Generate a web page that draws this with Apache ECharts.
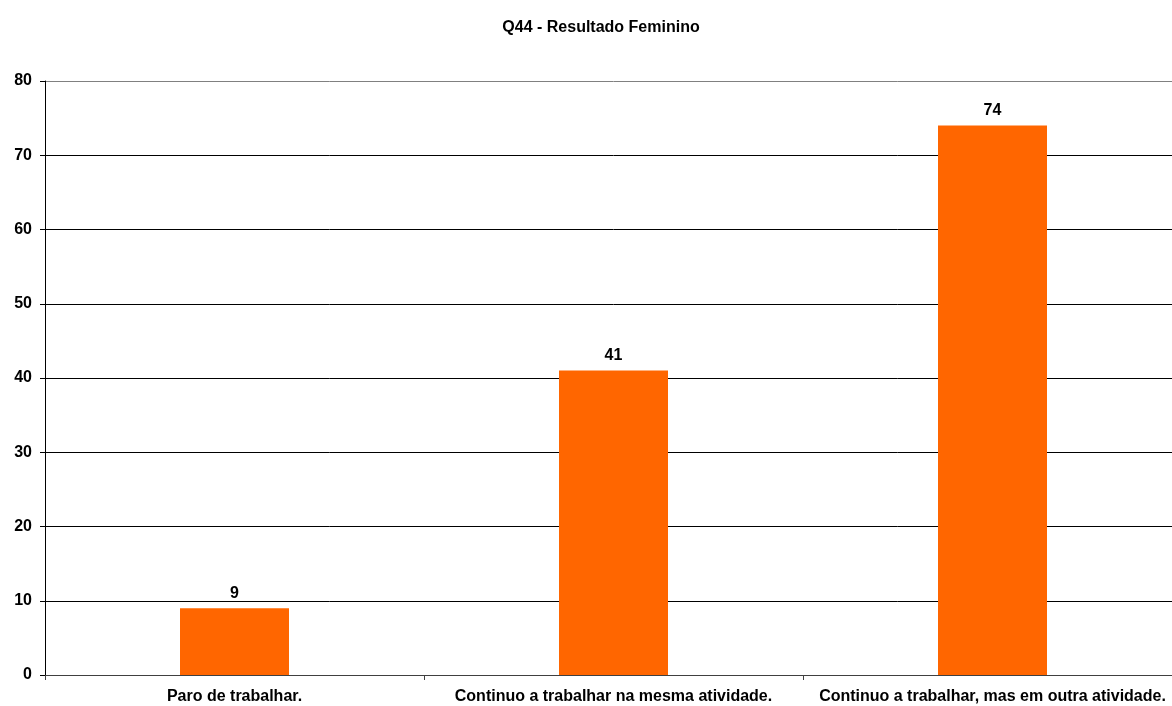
<!DOCTYPE html>
<html>
<head>
<meta charset="utf-8">
<script src="https://cdn.jsdelivr.net/npm/echarts@6/dist/echarts.min.js"></script>
<style>
  html, body { margin: 0; padding: 0; background: #fff; overflow: hidden; }
  /* the plot area runs a little past the right edge of the window */
  #chart { width: 1182px; height: 706px; }
</style>
</head>
<body>
<div id="chart"></div>
<script>
const titleText = 'Q44 - Resultado Feminino';
const categories = ['Paro de trabalhar.', 'Continuo a trabalhar na mesma atividade.', 'Continuo a trabalhar, mas em outra atividade.'];
const values = [9, 41, 74];

const chart = echarts.init(document.getElementById('chart'));
const font = 'Arial, "Liberation Sans", sans-serif';

chart.setOption({
  animation: false,
  backgroundColor: '#ffffff',
  title: {
    text: titleText,
    left: 596,
    top: 15,
    textAlign: 'center',
    textStyle: { fontFamily: font, fontSize: 16, fontWeight: 'bold', color: '#000' }
  },
  grid: { left: 45, right: 0, top: 81, bottom: 31, containLabel: false },
  xAxis: {
    type: 'category',
    data: categories,
    axisLine: { lineStyle: { color: '#404040', width: 1 } },
    axisTick: { show: true, length: 5, alignWithLabel: false, lineStyle: { color: '#404040' } },
    axisLabel: {
      interval: 0,
      margin: 14,
      fontFamily: font, fontSize: 16, fontWeight: 'bold', color: '#000'
    }
  },
  yAxis: {
    type: 'value',
    min: 0, max: 80, interval: 10,
    axisLine: { show: true, lineStyle: { color: '#000', width: 1 } },
    axisTick: { show: true, length: 5, lineStyle: { color: '#000' } },
    axisLabel: { margin: 13, fontFamily: font, fontSize: 16, fontWeight: 'bold', color: '#000' },
    splitLine: {
      show: true,
      lineStyle: { color: ['#000', '#000', '#000', '#000', '#000', '#000', '#000', '#000', '#808080'], width: 1 }
    }
  },
  series: [{
    type: 'bar',
    data: values,
    barWidth: 109,
    itemStyle: { color: '#FF6600' },
    label: {
      show: true,
      position: 'top',
      distance: 7,
      fontFamily: font, fontSize: 16, fontWeight: 'bold', color: '#000'
    }
  }]
});
</script>
</body>
</html>
